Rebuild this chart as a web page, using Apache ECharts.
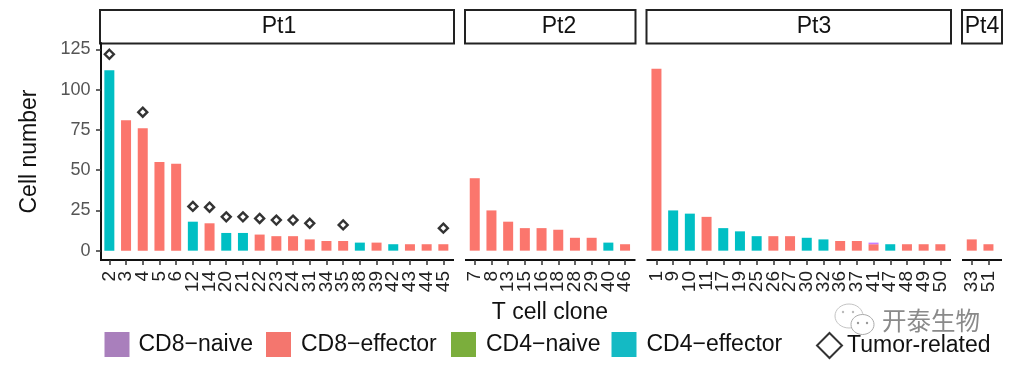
<!DOCTYPE html>
<html>
<head>
<meta charset="utf-8">
<style>html,body{margin:0;padding:0;background:#fff}#c{width:1014px;height:366px}</style>
<script src="https://cdn.jsdelivr.net/npm/echarts@6/dist/echarts.min.js"></script>
</head>
<body>
<div id="c"></div>
<script>
// ---- data ----
const yTicks = [0, 25, 50, 75, 100, 125];
const pt1Labels = ['2','3','4','5','6','12','14','20','21','22','23','24','31','34','35','38','39','42','43','44','45'];
const pt1Effector8 = [null,81,76,55,54,null,17,null,null,10,9,9,7,6,6,null,5,null,4,4,4];
const pt1Effector4 = [112,null,null,null,null,18,null,11,11,null,null,null,null,null,null,5,null,4,null,null,null];
const pt1Tumor = [122,null,86,null,null,27.5,27,21,21,20,19,19,17,null,16,null,null,null,null,null,14];

const pt2Labels = ['7','8','13','15','16','18','28','29','40','46'];
const pt2Effector8 = [45,25,18,14,14,13,8,8,null,4];
const pt2Effector4 = [null,null,null,null,null,null,null,null,5,null];

const pt3Labels = ['1','9','10','11','17','19','25','26','27','30','32','36','37','41','47','48','49','50'];
const pt3Effector8 = [113,null,null,21,null,null,null,9,9,null,null,6,6,4,null,4,4,4];
const pt3Effector4 = [null,25,23,null,14,12,9,null,null,8,7,null,null,null,4,null,null,null];
const pt3Naive8 = [null,null,null,null,null,null,null,null,null,null,null,null,null,1,null,null,null,null];

const pt4Labels = ['33','51'];
const pt4Effector8 = [7,4];

const stripNames = ['Pt1','Pt2','Pt3','Pt4'];
const cellTypes = ['CD8\u2212naive','CD8\u2212effector','CD4\u2212naive','CD4\u2212effector'];
const tumorName = 'Tumor-related';

// ---- styling / layout ----
const COL = {naive8:'#C77CFF', eff8:'#FB766D', naive4:'#7CAE00', eff4:'#00BFC4'};
const LEG = ['#A97FBC','#F4766E','#7BAE3C','#14BAC4'];
const band = 16.7, plotTop = 43, plotBottom = 260;
const panels = [
  {labels:pt1Labels, eff8:pt1Effector8, eff4:pt1Effector4, tumor:pt1Tumor, left:101, box:[100,454], textX:279},
  {labels:pt2Labels, eff8:pt2Effector8, eff4:pt2Effector4, left:466.4, box:[465,635.5], textX:559},
  {labels:pt3Labels, eff8:pt3Effector8, eff4:pt3Effector4, naive8:pt3Naive8, left:648.1, box:[646.5,951], textX:814},
  {labels:pt4Labels, eff8:pt4Effector8, left:963.4, box:[962,1002], textX:982}
];
const fontFam = '"Liberation Sans", Arial, sans-serif';

const grids = [], xAxes = [], yAxes = [], seriesList = [], shapes = [];
panels.forEach((p, i) => {
  grids.push({left:p.left, top:plotTop, width:band*p.labels.length, height:plotBottom-plotTop});
  xAxes.push({
    type:'category', gridIndex:i, data:p.labels, position:'bottom',
    axisLine:{show:true, onZero:false, lineStyle:{color:'#111', width:2}},
    axisTick:{show:true, alignWithLabel:true, length:5, lineStyle:{color:'#333', width:1.5}},
    axisLabel:{interval:0, rotate:90, fontSize:19, fontFamily:fontFam, color:'#222', margin:11, hideOverlap:false},
    splitLine:{show:false}
  });
  yAxes.push({
    type:'value', gridIndex:i, min:-5.8, max:129, show:i===0,
    name:i===0?'Cell number':'', nameLocation:'middle', nameGap:60,
    nameTextStyle:{fontSize:23, fontFamily:fontFam, color:'#111'},
    axisLine:{show:true, onZero:false, lineStyle:{color:'#111', width:2}},
    axisTick:{show:true, length:5, customValues:yTicks, lineStyle:{color:'#333', width:1.5}},
    axisLabel:{fontSize:18, fontFamily:fontFam, color:'#555', margin:10.5, customValues:yTicks},
    splitLine:{show:false}
  });
  const empty = p.labels.map(() => null);
  const bar = (name, data, color) => ({
    type:'bar', name, xAxisIndex:i, yAxisIndex:i, stack:'p'+i, data:data||empty,
    barWidth:10, itemStyle:{color}, silent:true, animation:false
  });
  seriesList.push(bar(cellTypes[1], p.eff8, COL.eff8));
  seriesList.push(bar(cellTypes[3], p.eff4, COL.eff4));
  seriesList.push(bar(cellTypes[2], null, COL.naive4));
  seriesList.push(bar(cellTypes[0], p.naive8, COL.naive8));
  if (p.tumor) seriesList.push({
    type:'scatter', name:tumorName, xAxisIndex:i, yAxisIndex:i, data:p.tumor,
    symbol:'diamond', symbolSize:9, animation:false, silent:true,
    itemStyle:{color:'#fff', borderColor:'#000', borderWidth:2.4}
  });
  shapes.push({type:'rect', shape:{x:p.box[0], y:10, width:p.box[1]-p.box[0], height:33.5},
    style:{fill:'#fff', stroke:'#222', lineWidth:2}, silent:true});
  shapes.push({type:'text', x:p.textX, y:27,
    style:{text:stripNames[i], font:'23px '+fontFam, fill:'#111', textAlign:'center', textVerticalAlign:'middle'}, silent:true});
  shapes.push({type:'line', shape:{x1:p.box[0], y1:plotBottom, x2:p.box[1], y2:plotBottom},
    style:{stroke:'#111', lineWidth:2}, silent:true});
});
shapes.push({type:'text', x:550, y:312.5,
  style:{text:'T cell clone', font:'23px '+fontFam, fill:'#111', textAlign:'center', textVerticalAlign:'middle'}, silent:true});
// watermark
shapes.push({type:'ellipse', shape:{cx:849, cy:316, rx:14, ry:12}, style:{fill:'#fff', stroke:'#c4c4c4', lineWidth:1}, silent:true});
shapes.push({type:'ellipse', shape:{cx:862.5, cy:324.5, rx:11.5, ry:10}, style:{fill:'#fff', stroke:'#aaa', lineWidth:1}, silent:true});
[[843,312,'#bbb'],[853,312,'#bbb'],[858,323,'#999'],[867,323,'#999']].forEach(e =>
  shapes.push({type:'circle', shape:{cx:e[0], cy:e[1], r:1.2}, style:{fill:e[2]}, silent:true}));
shapes.push({type:'text', x:882, y:321,
  style:{text:'\u5f00\u6cf0\u751f\u7269', font:'24.5px "Noto Sans CJK SC"', fill:'#8a8a8a', textVerticalAlign:'middle'}, silent:true});

const legPos = [104.5, 266, 451, 611.5];
const legPad = [4, 5, 5, 5];
const legends = cellTypes.map((n, i) => ({
  data:[n], left:legPos[i], top:332, padding:0, itemWidth:25, itemHeight:25, selectedMode:false,
  icon:'rect', itemStyle:{color:LEG[i], borderWidth:0},
  textStyle:{fontSize:23, fontFamily:fontFam, color:'#111', padding:[5,0,0,legPad[i]]}
}));
legends.push({
  data:[tumorName], left:816, top:332, padding:0, itemWidth:25, itemHeight:25, selectedMode:false,
  icon:'diamond', itemStyle:{color:'#fff', borderColor:'#000', borderWidth:2},
  textStyle:{fontSize:23, fontFamily:fontFam, color:'#111', padding:[5,0,0,0]}
});

const chart = echarts.init(document.getElementById('c'), null, {renderer:'canvas'});
chart.setOption({animation:false, backgroundColor:'#fff', tooltip:{show:false},
  grid:grids, xAxis:xAxes, yAxis:yAxes, series:seriesList, legend:legends, graphic:shapes});
</script>
</body>
</html>
